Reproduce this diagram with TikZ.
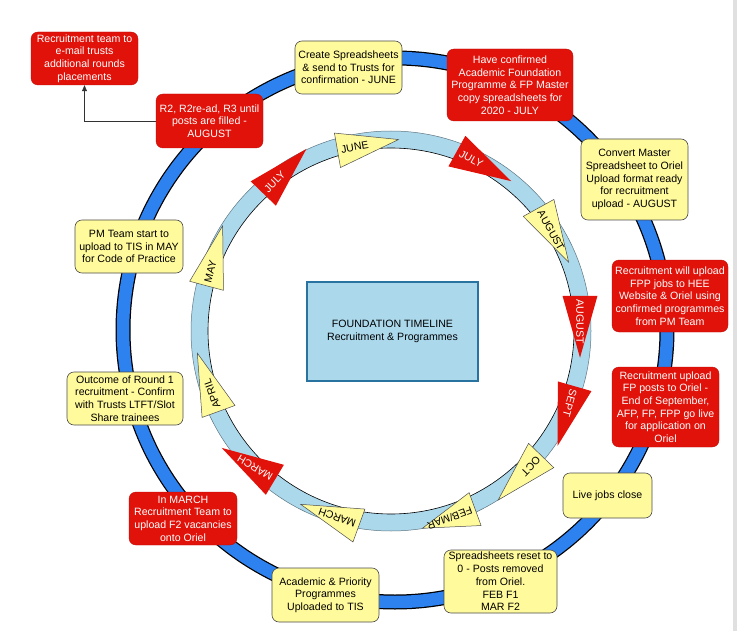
\documentclass[tikz,border=0pt]{standalone}
\usepackage{fontspec}
\setmainfont{Liberation Sans}
\usepackage{tikz}
\usetikzlibrary{arrows.meta, positioning, shapes.geometric, calc}
\definecolor{ringblue}{RGB}{45, 130, 240}
\definecolor{ringlight}{RGB}{172, 216, 236}
\definecolor{boxred}{RGB}{224, 18, 10}
\definecolor{boxyellow}{RGB}{255, 250, 155}
\definecolor{titleline}{RGB}{40, 115, 160}

\begin{document}
\begin{tikzpicture}[
    x=1pt, y=-1pt,
    font=\fontsize{10.6}{12.7}\selectfont,
    rbox/.style={rectangle, rounded corners=7pt, fill=boxred, draw=boxred!85!black, line width=0.4pt, text=white, align=center, inner sep=1pt},
    ybox/.style={rectangle, rounded corners=7pt, fill=boxyellow, draw=black!70, line width=0.6pt, align=center, inner sep=1pt},
    tri/.style={isosceles triangle, isosceles triangle stretches, minimum width=35pt, minimum height=62pt, inner sep=0pt},
    ytri/.style={tri, fill=boxyellow, draw=black!70, line width=0.5pt},
    rtri/.style={tri, fill=boxred},
    trilab/.style={inner sep=0pt, anchor=west},
    arr/.style={-{Triangle[length=6pt, width=5pt]}, line width=0.6pt, draw=black!80}
]
    \useasboundingbox (0,0) rectangle (739,631);
    \fill[black!12] (733,0) rectangle (737,631);

    \draw[black, line width=15pt] (395,330) circle[radius=272pt];
    \draw[ringblue, line width=12.5pt] (395,330) circle[radius=272pt];

    \path[fill=ringlight, even odd rule] (391,331) circle[radius=200pt] (391,331) circle[radius=183pt];
    \draw[ringlight!55!black, line width=0.5pt] (391,331) circle[radius=200pt];
    \draw[black, line width=0.6pt] (391,331) circle[radius=183pt];

    \node[draw=titleline, line width=1.2pt, fill=ringlight, minimum width=171pt, minimum height=99pt, align=center] (title) at (392.5,331.5) {FOUNDATION TIMELINE\\Recruitment \& Programmes};

    \node[rbox, minimum width=107pt, minimum height=53pt] (trusts) at (84.5,58.5) {Recruitment team to\\e-mail trusts\\additional rounds\\placements};
    \node[rbox, minimum width=107pt, minimum height=54pt] (rounds) at (209.5,121) {R2, R2re-ad, R3 until\\posts are filled -\\AUGUST};
    \node[ybox, minimum width=107pt, minimum height=53pt] (create) at (348.5,67.5) {Create Spreadsheets\\\& send to Trusts for\\confirmation - JUNE};
    \node[rbox, minimum width=126pt, minimum height=72pt] (confirm) at (510,85) {Have confirmed\\Academic Foundation\\Programme \& FP Master\\copy spreadsheets for\\2020 - JULY};
    \node[ybox, minimum width=107pt, minimum height=81pt] (convert) at (634.5,179.5) {Convert Master\\Spreadsheet to Oriel\\Upload format ready\\for recruitment\\upload - AUGUST};
    \node[rbox, minimum width=116pt, minimum height=72pt] (fppjobs) at (670,296) {Recruitment will upload\\FPP jobs to HEE\\Website \& Oriel using\\confirmed programmes\\from PM Team};
    \node[rbox, minimum width=107pt, minimum height=80pt] (fpposts) at (665.5,407) {Recruitment upload\\FP posts to Oriel -\\End of September,\\AFP, FP, FPP go live\\for application on\\Oriel};
    \node[ybox, minimum width=89pt, minimum height=45pt] (close) at (607.5,495.5) {Live jobs close};
    \node[ybox, minimum width=113pt, minimum height=63pt] (reset) at (500.5,581.5) {Spreadsheets reset to\\0 - Posts removed\\from Oriel.\\FEB F1\\MAR F2};
    \node[ybox, minimum width=107pt, minimum height=54pt] (tis) at (325.5,595) {Academic \& Priority\\Programmes\\Uploaded to TIS};
    \node[rbox, minimum width=108pt, minimum height=53pt] (march) at (183,518.5) {In MARCH\\Recruitment Team to\\upload F2 vacancies\\onto Oriel};
    \node[ybox, minimum width=116pt, minimum height=53pt] (outcome) at (125,398.5) {Outcome of Round 1\\recruitment - Confirm\\with Trusts LTFT/Slot\\Share trainees};
    \node[ybox, minimum width=108pt, minimum height=53pt] (pmteam) at (129,246.5) {PM Team start to\\upload to TIS in MAY\\for Code of Practice};

    \draw[arr] (rounds.west) -| (trusts.south);

    \node[ytri, rotate=10] (junetri) at (350.5,148) {};
    \node[rtri, rotate=-29] (julytri) at (468.5,157.5) {};
    \node[ytri, rotate=-61] (augtri) at (545,219.5) {};
    \node[rtri, rotate=-90] (augtri2) at (580,309) {};
    \node[rtri, rotate=-106] (septtri) at (571,399) {};
    \node[ytri, rotate=-134] (octtri) at (532,465) {};
    \node[ytri, rotate=-160, minimum height=56pt] (febtri) at (463,513.5) {};
    \node[ytri, rotate=160] (martri) at (346.5,521) {};
    \node[rtri, rotate=149] (martri2) at (263.5,473) {};
    \node[ytri, rotate=110] (apriltri) at (214,399) {};
    \node[ytri, rotate=75] (maytri) at (210,273) {};
    \node[rtri, rotate=46] (julytri2) at (272.5,184) {};

    \node[trilab, rotate=10] at ($(junetri.lower side)!0.06!(junetri.apex)$) {JUNE};
    \node[trilab, rotate=-29, text=white] at ($(julytri.lower side)!0.06!(julytri.apex)$) {JULY};
    \node[trilab, rotate=-61] at ($(augtri.lower side)!0.06!(augtri.apex)$) {AUGUST};
    \node[trilab, rotate=-90, text=white] at ($(augtri2.lower side)!0.06!(augtri2.apex)$) {AUGUST};
    \node[trilab, rotate=-106, text=white] at ($(septtri.lower side)!0.06!(septtri.apex)$) {SEPT};
    \node[trilab, rotate=-134] at ($(octtri.lower side)!0.06!(octtri.apex)$) {OCT};
    \node[trilab, rotate=-160] at ($(febtri.lower side)!0.06!(febtri.apex)$) {FEB/MAR};
    \node[trilab, rotate=160] at ($(martri.lower side)!0.06!(martri.apex)$) {MARCH};
    \node[trilab, rotate=149, text=white] at ($(martri2.lower side)!0.06!(martri2.apex)$) {MARCH};
    \node[trilab, rotate=110] at ($(apriltri.lower side)!0.06!(apriltri.apex)$) {APRIL};
    \node[trilab, rotate=75] at ($(maytri.lower side)!0.06!(maytri.apex)$) {MAY};
    \node[trilab, rotate=46, text=white] at ($(julytri2.lower side)!0.06!(julytri2.apex)$) {JULY};
\end{tikzpicture}
\end{document}
